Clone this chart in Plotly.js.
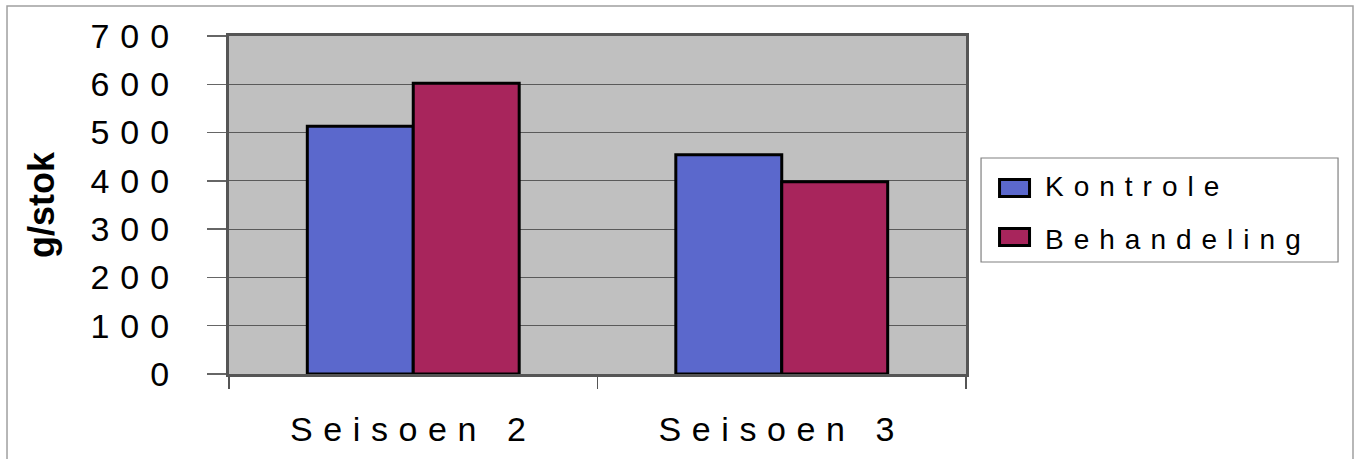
<!DOCTYPE html>
<html>
<head>
<meta charset="utf-8">
<script src="https://cdn.plot.ly/plotly-3.0.1.min.js"></script>
<style>
  html, body { margin: 0; padding: 0; background: #ffffff; }
  #chart { width: 1360px; height: 459px; }
  /* spaced-out lettering used throughout the figure */
  .xtick text { letter-spacing: 10.6px; }
  .ytick text { letter-spacing: 11px; }
  .legendtext { letter-spacing: 10px; }
  /* legend swatches are drawn as wide boxes in the layout shapes */
  .legendpoints { display: none; }
</style>
</head>
<body>
<div id="chart"></div>
<script>
// Seasons and yields (g/stok) per treatment
const seasons = ["Seisoen 2", "Seisoen 3"];
const seriesNames = ["Kontrole", "Behandeling"];
const kontrole = [513, 454];
const behandeling = [602, 398];
const seriesColors = ["#5b68cc", "#a8255c"];
const yTickVals = [0, 100, 200, 300, 400, 500, 600, 700];
const yTickText = ["0", "100", "200", "300", "400", "500", "600", "700"];

const fontFamily = '"Liberation Sans", Arial, sans-serif';

const traces = [
  {
    type: "bar",
    name: seriesNames[0],
    legendgroup: "k",
    x: seasons,
    y: kontrole,
    marker: { color: seriesColors[0], line: { color: "#000000", width: 3 } },
    hoverinfo: "x+y+name"
  },
  {
    type: "bar",
    name: seriesNames[1],
    legendgroup: "b",
    x: seasons,
    y: behandeling,
    marker: { color: seriesColors[1], line: { color: "#000000", width: 3 } },
    hoverinfo: "x+y+name"
  }
];

// wide legend key boxes, one per series (paper coordinates)
const swatchRows = [[0.5754, 0.5251], [0.4305, 0.3802]];
const swatches = swatchRows.map((r, i) => ({
  type: "rect", xref: "paper", yref: "paper",
  x0: 1.0455, x1: 1.0862, y0: r[1], y1: r[0],
  line: { color: "#000000", width: 3 },
  fillcolor: seriesColors[i], layer: "above"
}));

const layout = {
  width: 1360,
  height: 459,
  margin: { l: 229, r: 394, t: 36, b: 85, autoexpand: false },
  paper_bgcolor: "#ffffff",
  plot_bgcolor: "#c0c0c0",
  font: { family: fontFamily, color: "#000000" },
  barmode: "group",
  bargap: 0.425,
  bargroupgap: 0,
  showlegend: true,
  legend: {
    x: 1.0258, xanchor: "left",
    y: 0.632, yanchor: "top",
    bgcolor: "rgba(0,0,0,0)",
    borderwidth: 0,
    font: { family: fontFamily, size: 28, color: "#000000" },
    itemwidth: 50,
    tracegroupgap: 14,
    traceorder: "grouped"
  },
  xaxis: {
    type: "category",
    tickson: "boundaries",
    ticks: "outside",
    ticklen: 12,
    tickwidth: 1.5,
    tickcolor: "#555555",
    ticklabelstandoff: 23,
    tickfont: { family: fontFamily, size: 34, color: "#000000" },
    showgrid: false,
    showline: true,
    linecolor: "#555555",
    linewidth: 3,
    mirror: true,
    zeroline: false,
    fixedrange: true
  },
  yaxis: {
    range: [0, 700],
    tickmode: "array",
    tickvals: yTickVals,
    ticktext: yTickText,
    ticks: "outside",
    ticklen: 19,
    tickwidth: 1.5,
    tickcolor: "#666666",
    ticklabelstandoff: 20,
    tickfont: { family: fontFamily, size: 34, color: "#000000" },
    showgrid: true,
    gridcolor: "#5a5a5a",
    gridwidth: 1,
    showline: true,
    linecolor: "#555555",
    linewidth: 3,
    mirror: true,
    zeroline: false,
    title: {
      text: "g/stok",
      font: { family: fontFamily, size: 36, color: "#000000", weight: "bold" },
      standoff: 25
    },
    fixedrange: true
  },
  shapes: [
    // outer chart frame
    {
      type: "rect", xref: "paper", yref: "paper",
      x0: -0.3012, x1: 1.5251, y0: -0.26, y1: 1.0888,
      line: { color: "#a0a0a0", width: 1.5 },
      fillcolor: "rgba(0,0,0,0)", layer: "above"
    },
    // legend box
    {
      type: "rect", xref: "paper", yref: "paper",
      x0: 1.0204, x1: 1.5048, y0: 0.3314, y1: 0.639,
      line: { color: "#808080", width: 1.2 },
      fillcolor: "rgba(0,0,0,0)", layer: "above"
    }
  ].concat(swatches)
};

Plotly.newPlot("chart", traces, layout, { displayModeBar: false, staticPlot: true });
</script>
</body>
</html>
